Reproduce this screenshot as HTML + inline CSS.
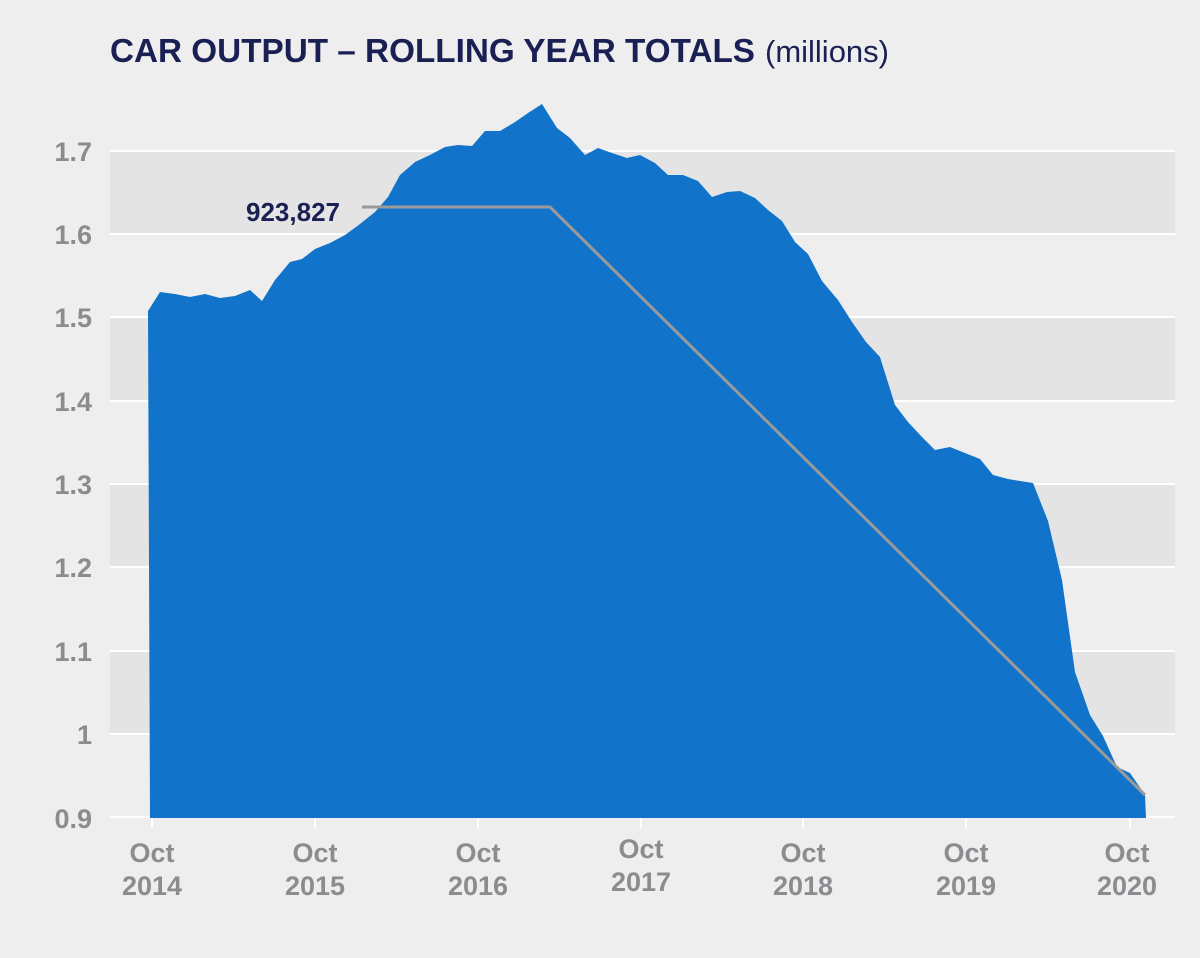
<!DOCTYPE html>
<html><head><meta charset="utf-8"><style>
body{margin:0;background:#eeeeee;}
svg{display:block}
</style></head><body>
<svg width="1200" height="958" viewBox="0 0 1200 958" xmlns="http://www.w3.org/2000/svg">
<rect width="1200" height="958" fill="#eeeeee"/>
<text x="110" y="62" font-family="'Liberation Sans',sans-serif" font-size="33" fill="#1b2054"><tspan font-weight="bold" textLength="645" lengthAdjust="spacingAndGlyphs">CAR OUTPUT – ROLLING YEAR TOTALS</tspan><tspan font-size="31" dx="10">(millions)</tspan></text>
<g fill="#e4e4e4">
<rect x="110" y="151" width="1065" height="83"/>
<rect x="110" y="317" width="1065" height="84"/>
<rect x="110" y="484" width="1065" height="83"/>
<rect x="110" y="651" width="1065" height="83"/>
</g>
<g stroke="#ffffff" stroke-width="2">
<line x1="110" y1="151" x2="1175" y2="151"/><line x1="110" y1="234" x2="1175" y2="234"/>
<line x1="110" y1="317" x2="1175" y2="317"/><line x1="110" y1="401" x2="1175" y2="401"/>
<line x1="110" y1="484" x2="1175" y2="484"/><line x1="110" y1="567" x2="1175" y2="567"/>
<line x1="110" y1="651" x2="1175" y2="651"/><line x1="110" y1="734" x2="1175" y2="734"/>
<line x1="110" y1="817" x2="1175" y2="817"/>
<line x1="152" y1="818" x2="152" y2="828"/><line x1="315" y1="818" x2="315" y2="828"/>
<line x1="478" y1="818" x2="478" y2="828"/><line x1="641" y1="818" x2="641" y2="828"/>
<line x1="803" y1="818" x2="803" y2="828"/><line x1="966" y1="818" x2="966" y2="828"/>
<line x1="1130" y1="818" x2="1130" y2="828"/>
</g>
<polygon fill="#1174ca" points="150,818 148,311 160,292 175,294 190,297 205,294 220,298 235,296 250,290 262,301 275,280 290,262 302,259 315,249 330,243 345,235 360,224 375,212 388,197 400,175 415,162 430,155 445,147 458,145 472,146 485,131 500,131 515,122 528,113 542,104 557,128 570,138 585,155 598,148 612,153 627,158 640,155 655,163 668,175 683,175 698,181 712,197 727,192 740,191 755,198 768,210 782,221 795,242 808,254 822,281 838,300 852,322 866,342 880,357 895,405 908,422 922,437 935,450 950,447 965,453 980,459 993,475 1008,479 1020,481 1033,483 1048,521 1062,580 1075,672 1090,715 1103,736 1117,767 1130,773 1145,795 1146,818"/>
<polyline fill="none" stroke="#9a9a9a" stroke-width="3" points="362,207 550,207 1145,795"/>
<text x="340" y="221" text-anchor="end" font-family="'Liberation Sans',sans-serif" font-weight="bold" font-size="26" fill="#1b2054">923,827</text>
<g font-family="'Liberation Sans',sans-serif" font-weight="bold" font-size="27" fill="#8c8c90" text-anchor="end">
<text x="92" y="161">1.7</text><text x="92" y="244">1.6</text><text x="92" y="327">1.5</text>
<text x="92" y="411">1.4</text><text x="92" y="494">1.3</text><text x="92" y="577">1.2</text>
<text x="92" y="661">1.1</text><text x="92" y="744">1</text><text x="92" y="828">0.9</text>
</g>
<g font-family="'Liberation Sans',sans-serif" font-weight="bold" font-size="27" fill="#8c8c90" text-anchor="middle">
<text x="152" y="862">Oct</text><text x="152" y="895">2014</text>
<text x="315" y="862">Oct</text><text x="315" y="895">2015</text>
<text x="478" y="862">Oct</text><text x="478" y="895">2016</text>
<text x="641" y="858">Oct</text><text x="641" y="891">2017</text>
<text x="803" y="862">Oct</text><text x="803" y="895">2018</text>
<text x="966" y="862">Oct</text><text x="966" y="895">2019</text>
<text x="1127" y="862">Oct</text><text x="1127" y="895">2020</text>
</g>
</svg>
</body></html>
